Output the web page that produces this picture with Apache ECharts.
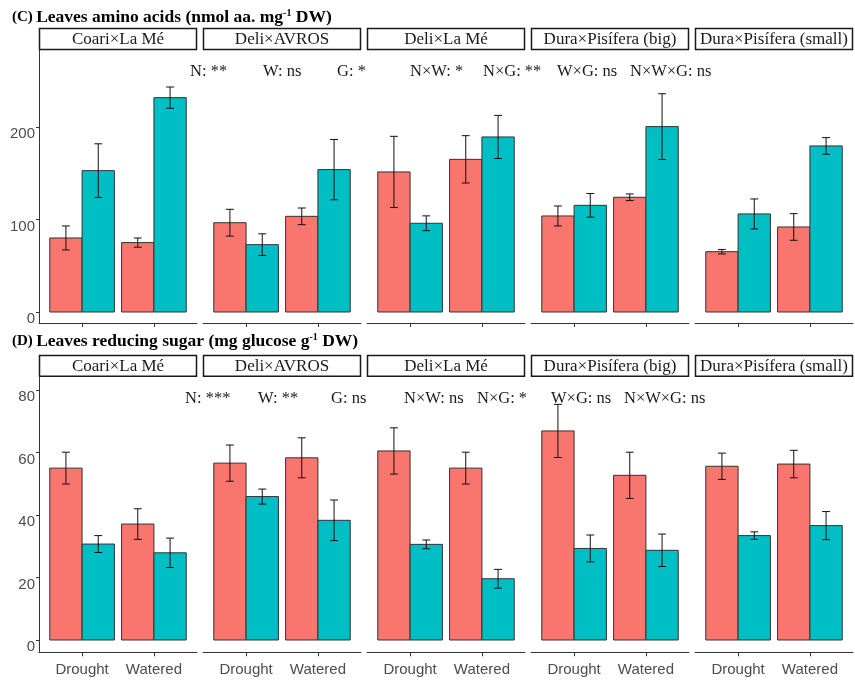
<!DOCTYPE html>
<html><head><meta charset="utf-8">
<script src="https://cdn.jsdelivr.net/npm/echarts@6/dist/echarts.min.js"></script>
<style>html,body{margin:0;padding:0;background:#fff}#c{width:855px;height:680px}</style>
</head><body><div id="c"></div>
<script>
// ---------- data ----------
const genotypes = ["Coari×La Mé", "Deli×AVROS", "Deli×La Mé", "Dura×Pisífera (big)", "Dura×Pisífera (small)"];
const water = ["Drought", "Watered"];
// (C) leaves amino acids: per genotype [Drought, Watered]
const aminoRed = [[80, 75], [96.5, 103.4], [151.4, 165], [103.8, 124], [65.2, 91.9]];
const aminoRedErr = [[13, 5], [14.5, 9], [38.5, 25.6], [10.8, 3.6], [2.4, 14.4]];
const aminoTeal = [[152.8, 231.7], [72.8, 153.9], [95.9, 189.2], [115.3, 200.4], [106, 179.5]];
const aminoTealErr = [[29, 11.5], [11.7, 32.6], [8, 23.3], [12.8, 35.5], [16.2, 9]];
// (D) leaves reducing sugar
const sugarRed = [[55.0, 37.1], [56.6, 58.3], [60.5, 55.0], [66.9, 52.7], [55.6, 56.3]];
const sugarRedErr = [[5.1, 4.9], [5.8, 6.4], [7.4, 5.1], [8.5, 7.4], [4.2, 4.4]];
const sugarTeal = [[30.7, 27.9], [45.9, 38.3], [30.6, 19.6], [29.3, 28.7], [33.4, 36.6]];
const sugarTealErr = [[2.7, 4.7], [2.4, 6.5], [1.4, 3.0], [4.3, 5.2], [1.2, 4.5]];
const aminoTicks = [0, 100, 200];
const sugarTicks = [0, 20, 40, 60, 80];
const sigAmino = ["N: **", "W: ns", "G: *", "N×W: *", "N×G: **", "W×G: ns", "N×W×G: ns"];
const sigSugar = ["N: ***", "W: **", "G: ns", "N×W: ns", "N×G: *", "W×G: ns", "N×W×G: ns"];

// ---------- layout ----------
const colors = ["#F8766D", "#00BFC4"];
const lefts = [39, 203, 367, 531, 695];
const pw = 158;
const serif = "Liberation Serif";
const sans = "Liberation Sans";
const rows = [
  { top: 50, h: 273, min: -11.9, max: 283.2, ticks: aminoTicks, red: aminoRed, redErr: aminoRedErr, teal: aminoTeal, tealErr: aminoTealErr,
    stripTop: 28, sigY: 72, sig: sigAmino, sigX: [190, 263, 337, 410, 483, 557, 630], showX: false,
    tag: "(C)", title: "Leaves amino acids (nmol aa. mg", titleEnd: " DW)", titleY: 17 },
  { top: 376.7, h: 275.6, min: -3.94, max: 84.26, ticks: sugarTicks, red: sugarRed, redErr: sugarRedErr, teal: sugarTeal, tealErr: sugarTealErr,
    stripTop: 355, sigY: 399, sig: sigSugar, sigX: [185, 258, 331, 404, 477, 551, 624], showX: true,
    tag: "(D)", title: "Leaves reducing sugar (mg glucose g", titleEnd: " DW)", titleY: 341 }
];

function makeRender(g) {
  return function (params, api) {
    const x = api.value(0) + (g === 0 ? -0.225 : 0.225);
    const v = api.value(1), e = api.value(2);
    const tl = api.coord([x - 0.225, v]);
    const br = api.coord([x + 0.225, 0]);
    const t = api.coord([x, v + e]);
    const b = api.coord([x, v - e]);
    const cl = api.coord([x - 0.055, v])[0];
    const cr = api.coord([x + 0.055, v])[0];
    const ls = { stroke: "#111", lineWidth: 1 };
    return {
      type: "group",
      children: [
        { type: "rect", shape: { x: tl[0], y: tl[1], width: br[0] - tl[0], height: br[1] - tl[1] }, style: { fill: colors[g], stroke: "#333", lineWidth: 1 } },
        { type: "line", shape: { x1: t[0], y1: t[1], x2: b[0], y2: b[1] }, style: ls },
        { type: "line", shape: { x1: cl, y1: t[1], x2: cr, y2: t[1] }, style: ls },
        { type: "line", shape: { x1: cl, y1: b[1], x2: cr, y2: b[1] }, style: ls }
      ]
    };
  };
}

const grid = [], xAxis = [], yAxis = [], series = [], graphic = [];
rows.forEach((r, ri) => {
  genotypes.forEach((gname, p) => {
    const idx = grid.length;
    grid.push({ left: lefts[p], top: r.top, width: pw, height: r.h, containLabel: false });
    xAxis.push({
      type: "value", gridIndex: idx, min: 0.4, max: 2.6,
      axisLine: { show: true, onZero: false, lineStyle: { color: "#333", width: 1 } },
      splitLine: { show: false },
      axisTick: { show: true, customValues: [1, 2], length: 4, lineStyle: { color: "#333" } },
      axisLabel: { show: r.showX, customValues: [1, 2], formatter: v => water[Math.round(v) - 1] || "",
        color: "#4d4d4d", fontSize: 15, fontFamily: sans, margin: 10 }
    });
    yAxis.push({
      type: "value", gridIndex: idx, min: r.min, max: r.max,
      axisLine: { show: p === 0, onZero: false, lineStyle: { color: "#333", width: 1 } },
      splitLine: { show: false },
      axisTick: { show: p === 0, customValues: r.ticks, length: 3, lineStyle: { color: "#333" } },
      axisLabel: { show: p === 0, customValues: r.ticks, color: "#4d4d4d", fontSize: 15, fontFamily: sans, margin: 4,
        verticalAlign: "top", lineHeight: 14 }
    });
    [[r.red, r.redErr], [r.teal, r.tealErr]].forEach(([vals, errs], g) => {
      series.push({
        type: "custom", xAxisIndex: idx, yAxisIndex: idx, clip: false,
        encode: { x: 0, y: 1 },
        data: water.map((w, k) => [k + 1, vals[p][k], errs[p][k]]),
        renderItem: makeRender(g)
      });
    });
    graphic.push({ type: "rect", shape: { x: lefts[p] + 0.5, y: r.stripTop + 0.5, width: pw - 1, height: r.top - r.stripTop - 1 },
      style: { fill: "#fff", stroke: "#1a1a1a", lineWidth: 1.5 } });
    graphic.push({ type: "text", style: { text: gname, x: lefts[p] + pw / 2, y: r.stripTop + (r.top - r.stripTop) / 2 + 1,
      align: "center", verticalAlign: "middle", fontSize: 17, fontFamily: serif, fill: "#1a1a1a" } });
  });
  r.sig.forEach((s, i) => {
    graphic.push({ type: "text", style: { text: s, x: r.sigX[i], y: r.sigY, align: "left", verticalAlign: "middle",
      fontSize: 16.5, fontFamily: serif, fill: "#1a1a1a" } });
  });
  graphic.push({ type: "text", style: {
    text: "{c|" + r.tag + "} {t|" + r.title + "}{s|-1}{t|" + r.titleEnd + "}",
    x: 12, y: r.titleY, verticalAlign: "middle",
    rich: {
      c: { fontSize: 15, fontWeight: "bold", fontFamily: serif, fill: "#000" },
      t: { fontSize: 17.5, fontWeight: "bold", fontFamily: serif, fill: "#000" },
      s: { fontSize: 10, fontWeight: "bold", fontFamily: serif, fill: "#000", verticalAlign: "top" }
    }
  } });
});

const chart = echarts.init(document.getElementById("c"), null, { renderer: "canvas" });
chart.setOption({ animation: false, backgroundColor: "#fff", grid, xAxis, yAxis, series, graphic });
</script></body></html>
